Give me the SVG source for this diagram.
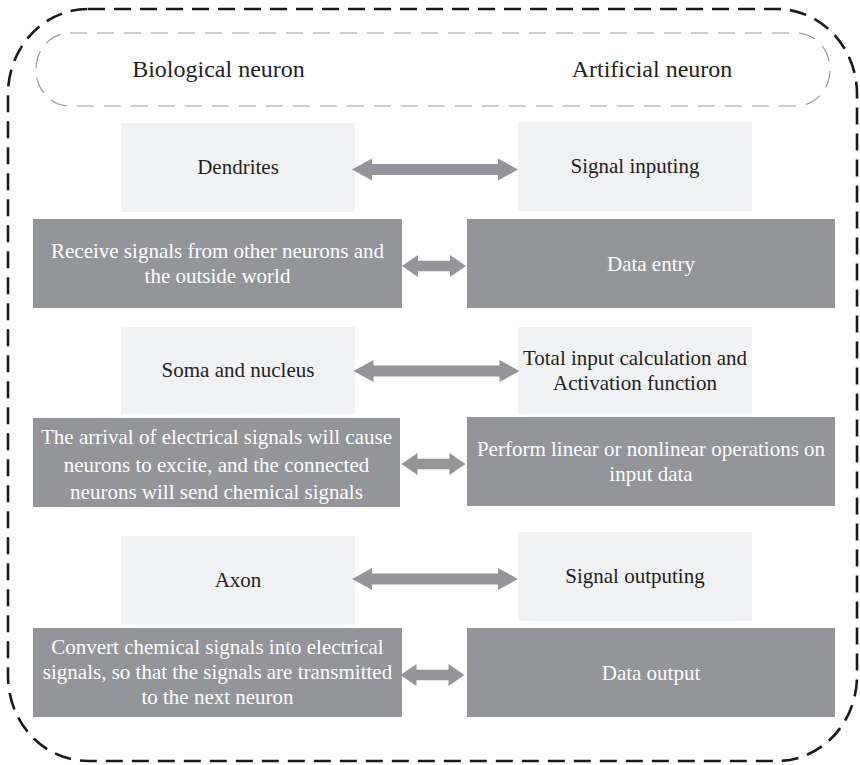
<svg xmlns="http://www.w3.org/2000/svg" width="860" height="765" viewBox="0 0 860 765">
  <style>
    .frame { fill: none; stroke: #1a1a1a; stroke-width: 2.6; stroke-dasharray: 17 9; }
    .pill { fill: none; stroke: #9a9a9a; stroke-width: 1.2; stroke-dasharray: 17 10; }
    .light { fill: #f1f2f4; }
    .dark { fill: #939598; }
    .arrow { fill: #939598; }
    .head { font-size: 24px; fill: #231f20; }
    .lt { font-size: 21px; fill: #231f20; }
    .dt { font-size: 21px; fill: #ffffff; }
  </style>
  <defs>
    <!-- long two-headed arrow, drawn around (0,0) -->
    <path id="longArrow" d="M -83 0 L -63 -11 L -63 -5.5 L 63 -5.5 L 63 -11 L 83 0 L 63 11 L 63 5.5 L -63 5.5 L -63 11 Z"/>
    <!-- short two-headed arrow, drawn around (0,0) -->
    <path id="shortArrow" d="M -32 0 L -16 -11 L -16 -5.2 L 16 -5.2 L 16 -11 L 32 0 L 16 11 L 16 5.2 L -16 5.2 L -16 11 Z"/>
  </defs>

  <rect width="860" height="765" fill="#ffffff"/>

  <!-- outer dashed frame -->
  <rect class="frame" x="8" y="9" width="849" height="752" rx="80" ry="85"/>

  <g font-family="'Liberation Serif', Tinos, 'Times New Roman', 'DejaVu Serif', serif" text-anchor="middle">
    <!-- column headings -->
    <g id="headings">
      <rect class="pill" x="36" y="33" width="794" height="73" rx="34" ry="36"/>
      <text class="head" x="218.5" y="77">Biological neuron</text>
      <text class="head" x="652" y="77">Artificial neuron</text>
    </g>

    <!-- row 1 -->
    <g id="dendrites">
      <rect class="light" x="121" y="123" width="234" height="89"/>
      <text class="lt" x="238" y="174">Dendrites</text>
    </g>
    <g id="signal-inputing">
      <rect class="light" x="518" y="122" width="234" height="89"/>
      <text class="lt" x="635" y="173">Signal inputing</text>
    </g>
    <g id="receive-signals">
      <rect class="dark" x="33" y="219" width="369" height="89"/>
      <text class="dt" x="217.5" y="258">Receive signals from other neurons and</text>
      <text class="dt" x="217.5" y="283">the outside world</text>
    </g>
    <g id="data-entry">
      <rect class="dark" x="467" y="219" width="368" height="89"/>
      <text class="dt" x="651" y="271">Data entry</text>
    </g>

    <!-- row 2 -->
    <g id="soma">
      <rect class="light" x="121" y="327" width="234" height="87"/>
      <text class="lt" x="238" y="377">Soma and nucleus</text>
    </g>
    <g id="total-input">
      <rect class="light" x="518" y="327" width="234" height="87"/>
      <text class="lt" x="635" y="365">Total input calculation and</text>
      <text class="lt" x="635" y="390">Activation function</text>
    </g>
    <g id="electrical-arrival">
      <rect class="dark" x="33" y="418" width="367" height="89"/>
      <text class="dt" x="216.5" y="444">The arrival of electrical signals will cause</text>
      <text class="dt" x="216.5" y="471.5">neurons to excite, and the connected</text>
      <text class="dt" x="216.5" y="499">neurons will send chemical signals</text>
    </g>
    <g id="operations">
      <rect class="dark" x="467" y="417" width="368" height="89"/>
      <text class="dt" x="651" y="456">Perform linear or nonlinear operations on</text>
      <text class="dt" x="651" y="481">input data</text>
    </g>

    <!-- row 3 -->
    <g id="axon">
      <rect class="light" x="121" y="536" width="234" height="89"/>
      <text class="lt" x="238" y="587">Axon</text>
    </g>
    <g id="signal-outputing">
      <rect class="light" x="518" y="532" width="234" height="89"/>
      <text class="lt" x="635" y="583">Signal outputing</text>
    </g>
    <g id="convert-signals">
      <rect class="dark" x="33" y="628" width="369" height="89"/>
      <text class="dt" x="217.5" y="654">Convert chemical signals into electrical</text>
      <text class="dt" x="217.5" y="679">signals, so that the signals are transmitted</text>
      <text class="dt" x="217.5" y="704">to the next neuron</text>
    </g>
    <g id="data-output">
      <rect class="dark" x="467" y="628" width="368" height="89"/>
      <text class="dt" x="651" y="680">Data output</text>
    </g>
  </g>

  <!-- connectors -->
  <g id="connectors" class="arrow">
    <use href="#longArrow" x="435" y="169.5"/>
    <use href="#shortArrow" x="434" y="266"/>
    <use href="#longArrow" x="436.5" y="371"/>
    <use href="#shortArrow" x="433.5" y="464"/>
    <use href="#longArrow" x="435" y="579"/>
    <use href="#shortArrow" x="432.5" y="675"/>
  </g>
</svg>
